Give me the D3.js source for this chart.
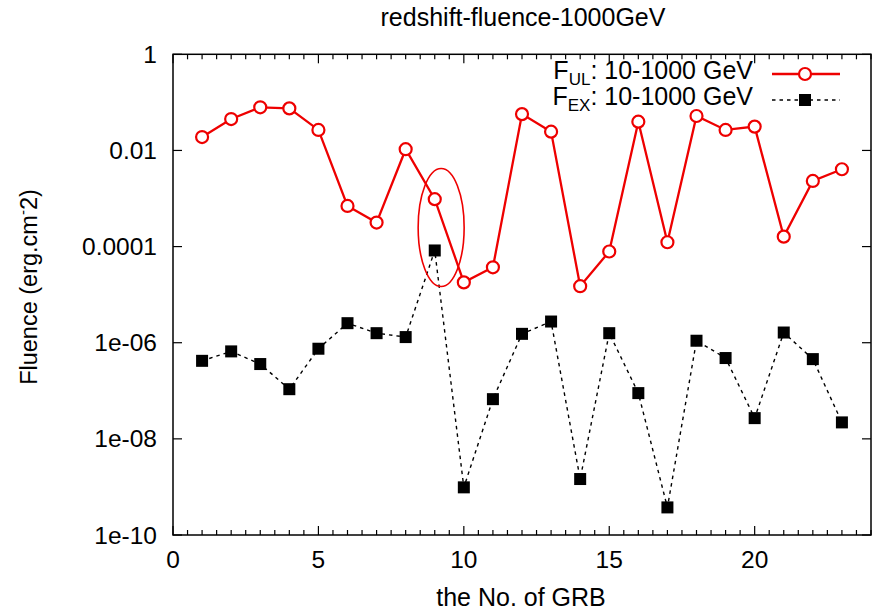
<!DOCTYPE html>
<html>
<head>
<meta charset="utf-8">
<script src="https://cdn.jsdelivr.net/npm/d3@7"></script>
<style>
  html, body { margin: 0; padding: 0; background: #fff; }
  svg { display: block; }
  text { font-family: "Liberation Sans", Arial, Helvetica, sans-serif; fill: #000; }
</style>
</head>
<body>
<svg id="chart" width="874" height="611"></svg>
<script>
// ---- data ----
const grbNo = [1,2,3,4,5,6,7,8,9,10,11,12,13,14,15,16,17,18,19,20,21,22,23];
const fluenceUL = [0.019,0.045,0.079,0.075,0.0267,0.0007,0.000316,0.0106,0.00097,1.8e-5,3.7e-5,0.057,0.0246,1.5e-5,7.9e-5,0.0397,0.000123,0.052,0.0267,0.0313,0.000161,0.00232,0.00406];
const fluenceEX = [4.2e-7,6.6e-7,3.6e-7,1.08e-7,7.5e-7,2.55e-6,1.58e-6,1.31e-6,8.3e-5,9.8e-10,6.7e-8,1.53e-6,2.76e-6,1.46e-9,1.58e-6,8.95e-8,3.75e-10,1.1e-6,4.8e-7,2.7e-8,1.63e-6,4.56e-7,2.2e-8];
const xTickValues = [0,5,10,15,20];
const yTickValues = [1,1e-2,1e-4,1e-6,1e-8,1e-10];
const yTickLabels = ["1","0.01","0.0001","1e-06","1e-08","1e-10"];
const highlightCenter = {x: 9.22, y: 2.5e-4};
const titleText = "redshift-fluence-1000GeV";
const xLabel = "the No. of GRB";

// ---- layout ----
const L = 173, R = 871, T = 54.3, B = 535;
const FS = 24.5;
const svg = d3.select("#chart");
const x = d3.scaleLinear().domain([0, 24]).range([L, R]);
const y = d3.scaleLog().domain([1e-10, 1]).range([B, T]);

// title
svg.append("text").attr("x", 523).attr("y", 26).attr("text-anchor", "middle")
  .attr("font-size", 25).text(titleText);

// ticks
const g = svg.append("g").attr("stroke", "#000").attr("stroke-width", 1.2);
const minorX = d3.range(0, 24.001, 0.5).filter(v => v % 5 !== 0);
minorX.forEach(v => {
  g.append("line").attr("x1", x(v)).attr("x2", x(v)).attr("y1", B).attr("y2", B - 5);
  g.append("line").attr("x1", x(v)).attr("x2", x(v)).attr("y1", T).attr("y2", T + 5);
});
xTickValues.forEach(v => {
  g.append("line").attr("x1", x(v)).attr("x2", x(v)).attr("y1", B).attr("y2", B - 9);
  g.append("line").attr("x1", x(v)).attr("x2", x(v)).attr("y1", T).attr("y2", T + 9);
});
yTickValues.forEach(v => {
  g.append("line").attr("x1", L).attr("x2", L + 9).attr("y1", y(v)).attr("y2", y(v));
  g.append("line").attr("x1", R).attr("x2", R - 9).attr("y1", y(v)).attr("y2", y(v));
});

// tick labels
xTickValues.forEach(v => {
  svg.append("text").attr("x", x(v)).attr("y", 568).attr("text-anchor", "middle")
    .attr("font-size", FS).text(String(v));
});
yTickValues.forEach((v, i) => {
  svg.append("text").attr("x", 157).attr("y", y(v) + 8.5).attr("text-anchor", "end")
    .attr("font-size", FS).text(yTickLabels[i]);
});

// axis labels
svg.append("text").attr("x", 521).attr("y", 606).attr("text-anchor", "middle")
  .attr("font-size", 25).text(xLabel);
const yl = svg.append("text").attr("transform", "translate(37,287) rotate(-90)")
  .attr("text-anchor", "middle").attr("font-size", 23.5);
yl.append("tspan").text("Fluence (erg.cm");
yl.append("tspan").attr("dy", -9).attr("font-size", 15).text("-");
yl.append("tspan").attr("dy", 9).text("2)");

// series EX (dashed, squares)
const lineGen = d3.line().x((d, i) => x(grbNo[i])).y(d => y(d));
svg.append("path").datum(fluenceEX).attr("d", lineGen)
  .attr("fill", "none").attr("stroke", "#000").attr("stroke-width", 1.4)
  .attr("stroke-dasharray", "3.5,4");
const sq = 12;
svg.append("g").selectAll("rect").data(fluenceEX).join("rect")
  .attr("x", (d, i) => x(grbNo[i]) - sq / 2).attr("y", d => y(d) - sq / 2)
  .attr("width", sq).attr("height", sq).attr("fill", "#000");

// series UL (solid red, open circles)
const red = "#ee0000";
svg.append("path").datum(fluenceUL).attr("d", lineGen)
  .attr("fill", "none").attr("stroke", red).attr("stroke-width", 2.3);
svg.append("g").selectAll("circle").data(fluenceUL).join("circle")
  .attr("cx", (d, i) => x(grbNo[i])).attr("cy", d => y(d)).attr("r", 6)
  .attr("fill", "#fff").attr("stroke", red).attr("stroke-width", 2.2);

// highlight ellipse
svg.append("ellipse").attr("cx", x(highlightCenter.x)).attr("cy", y(highlightCenter.y))
  .attr("rx", 23).attr("ry", 59).attr("fill", "none").attr("stroke", red).attr("stroke-width", 1.6);

// border
svg.append("rect").attr("x", L).attr("y", T).attr("width", R - L).attr("height", B - T)
  .attr("fill", "none").attr("stroke", "#000").attr("stroke-width", 1.5);

// legend
const legend = [
  {sub: "UL", base: 79, dash: null, color: red, marker: "circle"},
  {sub: "EX", base: 105, dash: "3.5,4", color: "#000", marker: "square"}
];
legend.forEach(it => {
  const t = svg.append("text").attr("x", 753).attr("y", it.base).attr("text-anchor", "end").attr("font-size", 25);
  t.append("tspan").text("F");
  t.append("tspan").attr("dy", 6).attr("font-size", 17).text(it.sub);
  t.append("tspan").attr("dy", -6).text(": 10-1000 GeV");
  const ly = it.base - 5;
  svg.append("line").attr("x1", 772).attr("x2", 840).attr("y1", ly).attr("y2", ly)
    .attr("stroke", it.color).attr("stroke-width", it.dash ? 1.4 : 2.3)
    .attr("stroke-dasharray", it.dash);
  if (it.marker === "circle") {
    svg.append("circle").attr("cx", 805).attr("cy", ly).attr("r", 6)
      .attr("fill", "#fff").attr("stroke", it.color).attr("stroke-width", 2.2);
  } else {
    svg.append("rect").attr("x", 805 - sq / 2).attr("y", ly - sq / 2).attr("width", sq).attr("height", sq).attr("fill", "#000");
  }
});
</script>
</body>
</html>
